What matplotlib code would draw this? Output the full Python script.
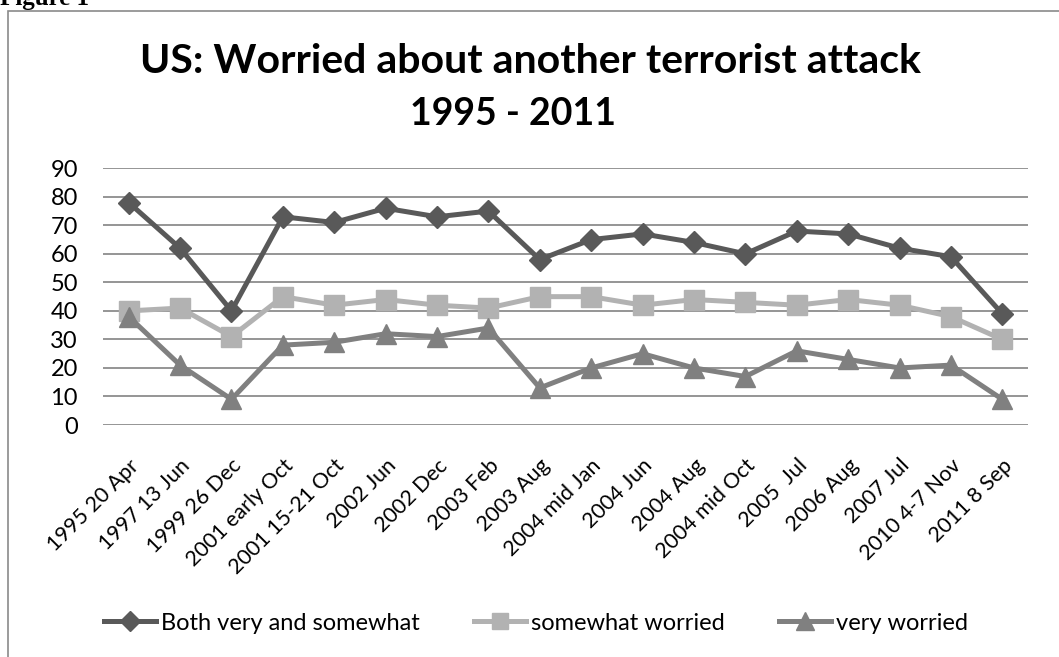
import numpy as np
import matplotlib.pyplot as plt
from matplotlib.patches import Rectangle

plt.rcParams["font.family"] = ["Lato", "DejaVu Sans"]

# Survey dates and percentages
dates = ["1995 20 Apr", "1997 13 Jun", "1999 26 Dec", "2001 early Oct",
         "2001 15-21 Oct", "2002 Jun", "2002 Dec", "2003 Feb", "2003 Aug",
         "2004 mid Jan", "2004 Jun", "2004 Aug", "2004 mid Oct", "2005  Jul",
         "2006 Aug", "2007 Jul", "2010 4-7 Nov", "2011 8 Sep"]
both = [78, 62, 40, 73, 71, 76, 73, 75, 58, 65, 67, 64, 60, 68, 67, 62, 59, 39]
somewhat = [40, 41, 31, 45, 42, 44, 42, 41, 45, 45, 42, 44, 43, 42, 44, 42, 38, 30]
very = [38, 21, 9, 28, 29, 32, 31, 34, 13, 20, 25, 20, 17, 26, 23, 20, 21, 9]
yticks = list(range(0, 100, 10))

W, H = 1059, 657
fig = plt.figure(figsize=(W / 100, H / 100), dpi=100)

# chart border (only top and left edges fall inside the page)
fig.patches.append(Rectangle((8 / W, -0.1), 1.2, 1 - 11 / H + 0.1,
                             transform=fig.transFigure, fill=False,
                             edgecolor="#8a8a8a", linewidth=1.2))

fig.text(0 / W, 1 - 5 / H, "Figure 1", family="Liberation Serif",
         weight="bold", fontsize=18, ha="left", va="baseline")

ax = fig.add_axes([103 / W, 1 - 425 / H, 925 / W, (425 - 168.3) / H])
x = np.arange(len(dates))

ax.plot(x, both, color="#595959", lw=3.6, marker="D", ms=11.5,
        label="Both very and somewhat", zorder=3)
ax.plot(x, somewhat, color="#b2b2b2", lw=3.6, marker="s", ms=14,
        label="somewhat worried", zorder=3)
ax.plot(x, very, color="#808080", lw=3.6, marker="^", ms=15,
        label="very worried", zorder=3)

ax.set_xlim(-0.5, len(dates) - 0.5)
ax.set_ylim(0, 90)
ax.set_yticks(yticks)
ax.yaxis.grid(True, color="#8c8c8c", lw=1.3)
ax.set_axisbelow(True)
for s in ax.spines.values():
    s.set_visible(False)
ax.tick_params(axis="both", length=0)
ax.tick_params(axis="y", pad=18, labelsize=17)
ax.set_xticks(x)
ax.set_xticklabels(dates, rotation=45, ha="right", rotation_mode="anchor")
ax.tick_params(axis="x", pad=22, labelsize=15.5)

fig.text(530 / W, 1 - 73 / H, "US: Worried about another terrorist attack",
         ha="center", va="baseline", fontsize=29.5, weight="bold")
fig.text(513 / W, 1 - 125 / H, "1995 - 2011",
         ha="center", va="baseline", fontsize=27, weight="bold")

fig.legend(loc="center", bbox_to_anchor=(536 / W, 1 - 623 / H), ncol=3,
           frameon=False, fontsize=17, handlelength=2.2, handletextpad=0.2,
           columnspacing=2.3, markerscale=0.85)

fig.savefig("out.png", dpi=100)
